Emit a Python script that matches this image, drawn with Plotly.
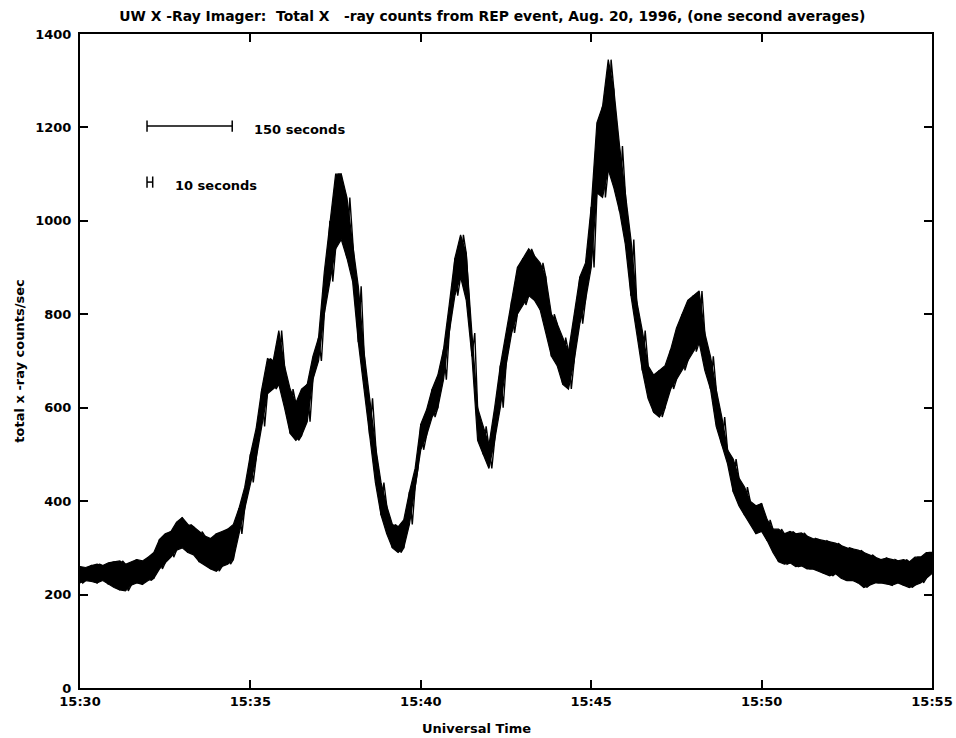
import plotly.graph_objects as go

# time in seconds after 15:30:00, 10-second bins
t_sec = list(range(0, 1510, 10))

# lower / upper envelope of the 1-s averaged counts in each 10-s bin
counts_lo = [225, 230, 228, 225, 230, 222, 215, 210, 208, 220,
             225, 222, 230, 235, 255, 268, 280, 295, 300, 290,
             285, 270, 262, 255, 250, 260, 265, 275, 330, 385,
             440, 490, 560, 630, 640, 650, 600, 545, 530, 540,
             570, 660, 700, 800, 870, 940, 960, 920, 870, 740,
             640, 540, 440, 370, 330, 300, 290, 300, 350, 430,
             510, 540, 580, 600, 660, 760, 840, 880, 830, 710,
             530, 500, 470, 530, 600, 690, 760, 800, 820, 840,
             830, 810, 760, 710, 690, 650, 640, 700, 780, 830,
             900, 1060, 1050, 1110, 1070, 1020, 950, 840, 760, 680,
             620, 590, 580, 600, 640, 660, 680, 700, 720, 740,
             680, 640, 560, 520, 480, 420, 390, 370, 350, 330,
             335, 315, 290, 270, 265, 268, 260, 262, 255, 255,
             250, 245, 240, 245, 235, 230, 230, 225, 215, 220,
             225, 225, 222, 220, 225, 220, 215, 220, 225, 235,
             245]
counts_hi = [260, 258, 262, 265, 262, 268, 270, 272, 265, 270,
             275, 272, 280, 290, 318, 330, 335, 355, 365, 350,
             345, 335, 325, 320, 330, 335, 340, 350, 385, 430,
             500, 555, 640, 705, 700, 765, 690, 640, 610, 640,
             650, 710, 750, 890, 1000, 1100, 1100, 1050, 950, 860,
             720, 620, 520, 440, 390, 350, 345, 360, 420, 470,
             565, 595, 640, 670, 725, 820, 920, 970, 930, 760,
             600, 560, 520, 600, 690, 760, 830, 900, 920, 940,
             925, 910, 880, 800, 780, 750, 720, 800, 880, 910,
             1030, 1210, 1245, 1345, 1280, 1160, 1060, 960, 830, 765,
             690, 670, 680, 690, 725, 770, 800, 830, 840, 850,
             760, 710, 640, 580, 510, 490, 450, 430, 400, 390,
             395, 360, 340, 340, 330, 335, 330, 332, 325, 320,
             318, 315, 312, 310, 305, 300, 298, 295, 290, 285,
             280, 275, 278, 275, 272, 275, 270, 280, 280, 290,
             290]

x_tick_vals = [0, 300, 600, 900, 1200, 1500]
x_tick_text = ["15:30", "15:35", "15:40", "15:45", "15:50", "15:55"]
y_tick_vals = [0, 200, 400, 600, 800, 1000, 1200, 1400]

scale_bar_seconds = [150, 10]
scale_bar_labels = ["150 seconds", "10 seconds"]

FONT = "DejaVu Sans"

# zig-zag between the low and high reading inside each bin
xs, ys = [], []
for i, t in enumerate(t_sec):
    pair = (counts_hi[i], counts_lo[i]) if i % 2 == 0 else (counts_lo[i], counts_hi[i])
    xs += [t, t + 5]
    ys += list(pair)

fig = go.Figure()
# solid band between the envelopes
fig.add_trace(go.Scatter(x=t_sec, y=counts_lo, mode="lines", line=dict(color="black", width=1.2),
                         showlegend=False, hoverinfo="skip"))
fig.add_trace(go.Scatter(x=t_sec, y=counts_hi, mode="lines", line=dict(color="black", width=1.2),
                         fill="tonexty", fillcolor="black", showlegend=False, hoverinfo="skip"))
fig.add_trace(go.Scatter(x=xs, y=ys, mode="lines",
                         line=dict(color="black", width=1.4),
                         showlegend=False, hoverinfo="skip"))

# scale bars
bar_x0 = 118
bar_ys = [1203, 1083]
label_x = [303, 163]
for secs, lab, yb, lx in zip(scale_bar_seconds, scale_bar_labels, bar_ys, label_x):
    fig.add_shape(type="line", x0=bar_x0, x1=bar_x0 + secs, y0=yb, y1=yb,
                  line=dict(color="black", width=1.5))
    for xe in (bar_x0, bar_x0 + secs):
        fig.add_shape(type="line", x0=xe, x1=xe, y0=yb - 12, y1=yb + 12,
                      line=dict(color="black", width=1.5))
    fig.add_annotation(x=lx, y=yb - 8, text=lab, showarrow=False, xanchor="left",
                       font=dict(family=FONT, size=13, color="black", weight="bold"))

axis_font = dict(family=FONT, size=13, color="black", weight="bold")

fig.update_layout(
    width=956, height=738,
    margin=dict(l=80, r=24, t=34, b=50),
    paper_bgcolor="white", plot_bgcolor="white",
    title=dict(text="UW X -Ray Imager:  Total X   -ray counts from REP event, Aug. 20, 1996, (one second averages)",
               x=0.515, xanchor="center", y=0.978, yanchor="middle",
               font=dict(family=FONT, size=13.9, color="black", weight="bold")),
    xaxis=dict(range=[0, 1500], tickvals=x_tick_vals, ticktext=x_tick_text,
               ticks="inside", ticklen=8, tickwidth=1.5, tickcolor="black",
               showline=True, linecolor="black", linewidth=2, mirror="ticks",
               showgrid=False, zeroline=False, tickfont=axis_font, automargin=False),
    yaxis=dict(range=[0, 1400], tickvals=y_tick_vals,
               ticks="inside", ticklen=8, tickwidth=1.5, tickcolor="black",
               showline=True, linecolor="black", linewidth=2, mirror="ticks",
               showgrid=False, zeroline=False, tickfont=axis_font, automargin=False,
               ticklabelstandoff=4,
               title=dict(text="total x -ray counts/sec", font=axis_font, standoff=8)),
    annotations=list(fig.layout.annotations) + [
        dict(text="Universal Time", xref="paper", yref="paper", x=(476 - 80) / 852,
             y=0, yshift=-40, xanchor="center", yanchor="middle", showarrow=False,
             font=axis_font)],
)

fig.write_html("out.html", config={"displayModeBar": False},
               post_script="document.body.style.margin='0';")
